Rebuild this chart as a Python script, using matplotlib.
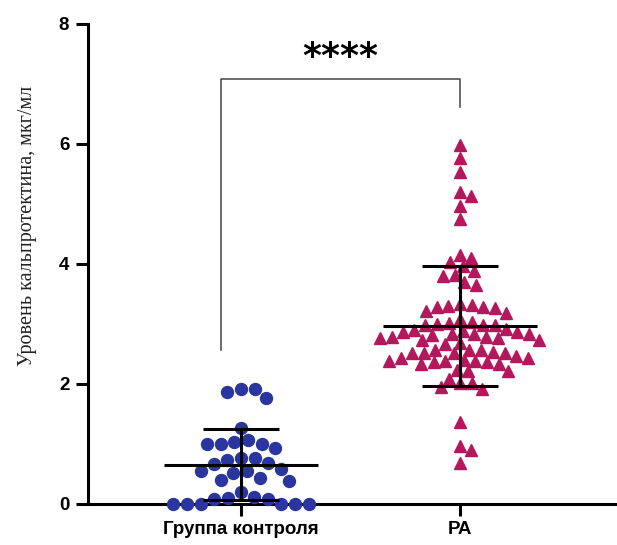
import numpy as np
import matplotlib.pyplot as plt

# значения (мкг/мл)
groups = ['Группа контроля', 'РА']
control = [1.91, 1.92, 1.87, 1.76, 1.27, 1.00, 1.00, 0.94, 1.00, 1.03, 1.07,
           0.69, 0.73, 0.76, 0.76, 0.66, 0.58, 0.55, 0.55, 0.51, 0.44, 0.39,
           0.40, 0.20, 0.12, 0.10, 0.08, 0.09, 0.0, 0.0, 0.0, 0.0, 0.0, 0.0]
ra = [5.98, 5.76, 5.53, 5.20, 5.14, 4.96, 4.75, 4.15, 4.10, 4.04, 3.96, 3.82,
      3.89, 3.80, 3.70, 3.65,
      3.19, 3.29, 3.30, 3.28, 3.22, 3.33, 3.32, 3.26, 3.08,
      2.98, 2.98, 2.98, 3.02, 3.00, 3.04,
      2.78, 2.76, 2.84, 2.86, 2.83, 2.86, 2.90, 2.82, 2.73, 2.73, 2.91, 2.76,
      2.83, 2.89, 2.79, 2.69, 2.67,
      2.52, 2.52, 2.56, 2.51, 2.52, 2.54, 2.56, 2.57,
      2.39, 2.39, 2.37, 2.33, 2.40, 2.46, 2.44, 2.44, 2.36, 2.39, 2.22, 2.34,
      2.24, 2.22,
      2.09, 2.01, 2.01, 1.91, 1.95,
      1.36, 0.90, 0.96, 0.69]
significance = '****'
yticks = [0, 2, 4, 6, 8]

W, H, DPI = 617, 545, 100
fig = plt.figure(figsize=(W / DPI, H / DPI), dpi=DPI)
ax = fig.add_axes([88 / W, 41 / H, 1 - 88 / W, 480 / H])
xmin, xmax, ymin, ymax = -0.699, 1.717, 0, 8
ax.set_xlim(xmin, xmax)
ax.set_ylim(ymin, ymax)

px_x = (W - 88) / (xmax - xmin)   # пикселей на единицу по x
px_y = 480 / (ymax - ymin)


def swarm(vals, diam):
    # простая раскладка "рой пчёл" в пикселях
    order = np.argsort(vals)[::-1]
    placed = []
    offs = np.zeros(len(vals))
    for i in order:
        y = vals[i] * px_y
        cands = [0.0]
        for (px, py) in placed:
            dy = y - py
            if abs(dy) < diam:
                dx = np.sqrt(diam ** 2 - dy ** 2) + 0.01
                cands += [px + dx, px - dx]
        cands.sort(key=abs)
        for c in cands:
            if all((c - px) ** 2 + (y - py) ** 2 >= diam ** 2 - 1e-6 for px, py in placed):
                break
        placed.append((c, y))
        offs[i] = c / px_x
    return offs


styles = [dict(marker='o', color='#2a35a0', ms=8.6, gap=14.0),
          dict(marker='^', color='#b3175c', ms=9.0, gap=11.8)]
for k, vals in enumerate([control, ra]):
    vals = np.array(vals)
    st = styles[k]
    xo = k + swarm(vals, st['gap'])
    ax.plot(xo, vals, ls='none', marker=st['marker'], ms=st['ms'],
            color=st['color'], mec=st['color'], zorder=3, clip_on=False)
    m, s = vals.mean(), vals.std(ddof=1)
    ax.hlines(m, k - 0.35, k + 0.35, color='black', lw=2.2, zorder=4)
    ax.hlines([m - s, m + s], k - 0.175, k + 0.175, color='black', lw=2.2, zorder=4)
    ax.vlines(k, m - s, m + s, color='black', lw=2.2, zorder=4)

# скобка значимости
bl, br = -0.093, 1.0
ax.plot([bl, bl, br, br], [2.57, 7.08, 7.08, 6.62], color='#444444', lw=1.1, zorder=2)
ax.text((bl + br) / 2, 7.45, significance, ha='center', va='center', fontsize=26,
        fontweight='bold', family='DejaVu Sans')

ax.spines['top'].set_visible(False)
ax.spines['right'].set_visible(False)
for sp in ['left', 'bottom']:
    ax.spines[sp].set_linewidth(2.2)
ax.set_xticks([0, 1])
ax.set_xticklabels(groups)
ax.set_yticks(yticks)
ax.tick_params(width=2.2, length=8.5, pad=4)
ax.tick_params(axis='y', pad=5)
for lab in ax.get_xticklabels() + ax.get_yticklabels():
    lab.set_fontfamily('Liberation Sans')
    lab.set_fontweight('bold')
    lab.set_fontsize(13.5)
ax.set_ylabel('Уровень кальпротектина, мкг/мл', family='Liberation Serif',
              fontsize=14.5, color='#222222')
ax.yaxis.set_label_coords(-0.097, 0.579)

fig.savefig('out.png', dpi=DPI)
